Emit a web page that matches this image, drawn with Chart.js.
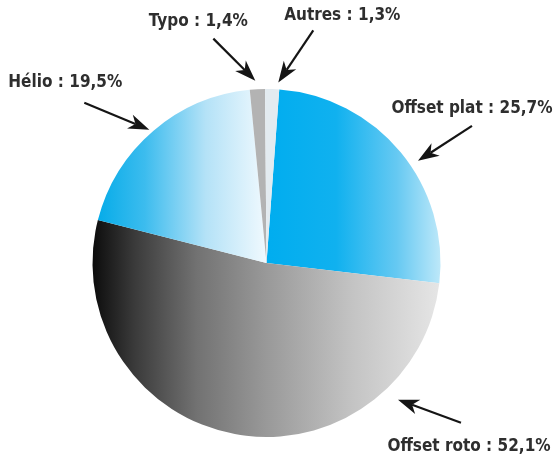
<!DOCTYPE html>
<html>
<head>
<meta charset="utf-8">
<script src="https://cdn.jsdelivr.net/npm/chart.js@4/dist/chart.umd.min.js"></script>
<style>
  body { margin: 0; background: #fff; }
</style>
</head>
<body>
<canvas id="pie" width="555" height="461"></canvas>
<script>
const categories = ["Offset plat", "Offset roto", "Hélio", "Typo", "Autres"];
const shares = [25.7, 52.1, 19.5, 1.4, 1.3];
const shareLabels = ["25,7%", "52,1%", "19,5%", "1,4%", "1,3%"];

// gradient stops per slice, x range as fraction of radius around the centre
const sliceFills = [
  { from: 0, to: 1, stops: [[0, "#00adef"], [0.4, "#10b1ef"], [0.75, "#66c9f2"], [1, "#bde8f9"]] },
  { from: -1, to: 1, stops: [[0, "#0c0c0c"], [0.12, "#3a3a3a"], [0.3, "#727272"], [0.5, "#999999"], [0.75, "#c4c4c4"], [1, "#e6e6e6"]] },
  { from: -1, to: 0, stops: [[0, "#00aae8"], [0.3, "#3cbcee"], [0.65, "#b4e2f7"], [1, "#f0f9fe"]] },
  { color: "#b3b3b3" },
  { color: "#e3ebf0" }
];

// arrow tip: position along the arc (frac) and radius factor; tail and text relative offsets
const callouts = [
  { frac: 0.56, k: 1.05, tail: [54, -35], text: [0, -17] },
  { frac: 0.21, k: 1.09, tail: [63, 23], text: [8, 24] },
  { frac: 0.49, k: 1.02, tail: [-65, -27], text: [-19, -20] },
  { frac: 0.4, k: 1.05, tail: [-42, -42], text: [-15, -17] },
  { frac: 0.9, k: 1.04, tail: [35, -52], text: [29, -15] }
];

function sliceColor(ctx) {
  const fill = sliceFills[ctx.dataIndex];
  if (fill.color) return fill.color;
  const area = ctx.chart.chartArea;
  if (!area) return fill.stops[0][1];
  const cx = (area.left + area.right) / 2;
  const r = Math.min(area.right - area.left, area.bottom - area.top) / 2;
  const g = ctx.chart.ctx.createLinearGradient(cx + fill.from * r, 0, cx + fill.to * r, 0);
  fill.stops.forEach(s => g.addColorStop(s[0], s[1]));
  return g;
}

const calloutPlugin = {
  id: "callouts",
  afterDatasetsDraw(chart) {
    const c = chart.ctx;
    const meta = chart.getDatasetMeta(0);
    meta.data.forEach((arc, i) => {
      const p = arc.getProps(["x", "y", "startAngle", "endAngle", "outerRadius"], true);
      const co = callouts[i];
      const a = p.startAngle + co.frac * (p.endAngle - p.startAngle);
      const tx = p.x + Math.cos(a) * p.outerRadius * co.k;
      const ty = p.y + Math.sin(a) * p.outerRadius * co.k;
      const sx = tx + co.tail[0];
      const sy = ty + co.tail[1];
      const ang = Math.atan2(ty - sy, tx - sx);
      const headLen = 21, headW = 7.5;
      const bx = tx - Math.cos(ang) * headLen;
      const by = ty - Math.sin(ang) * headLen;

      c.save();
      c.strokeStyle = "#151515";
      c.fillStyle = "#151515";
      c.lineWidth = 2.2;
      c.beginPath();
      c.moveTo(sx, sy);
      c.lineTo(bx + Math.cos(ang) * 6, by + Math.sin(ang) * 6);
      c.stroke();
      c.beginPath();
      c.moveTo(tx, ty);
      c.lineTo(bx - Math.sin(ang) * headW, by + Math.cos(ang) * headW);
      c.lineTo(bx + Math.cos(ang) * 6, by + Math.sin(ang) * 6);
      c.lineTo(bx + Math.sin(ang) * headW, by - Math.cos(ang) * headW);
      c.closePath();
      c.fill();

      c.font = "bold 17px 'DejaVu Sans Condensed', 'DejaVu Sans'";
      c.fillStyle = "#2e2e2e";
      c.textAlign = "center";
      c.textBaseline = "middle";
      c.fillText(categories[i] + " : " + shareLabels[i], sx + co.text[0], sy + co.text[1]);
      c.restore();
    });
  }
};

new Chart(document.getElementById("pie"), {
  type: "pie",
  data: {
    labels: categories,
    datasets: [{
      data: shares,
      backgroundColor: sliceColor,
      borderWidth: 0
    }]
  },
  options: {
    responsive: false,
    animation: false,
    rotation: 4.2,
    layout: { padding: { top: 89, bottom: 24, left: 92, right: 114 } },
    plugins: {
      legend: { display: false },
      tooltip: { enabled: false }
    }
  },
  plugins: [calloutPlugin]
});
</script>
</body>
</html>
